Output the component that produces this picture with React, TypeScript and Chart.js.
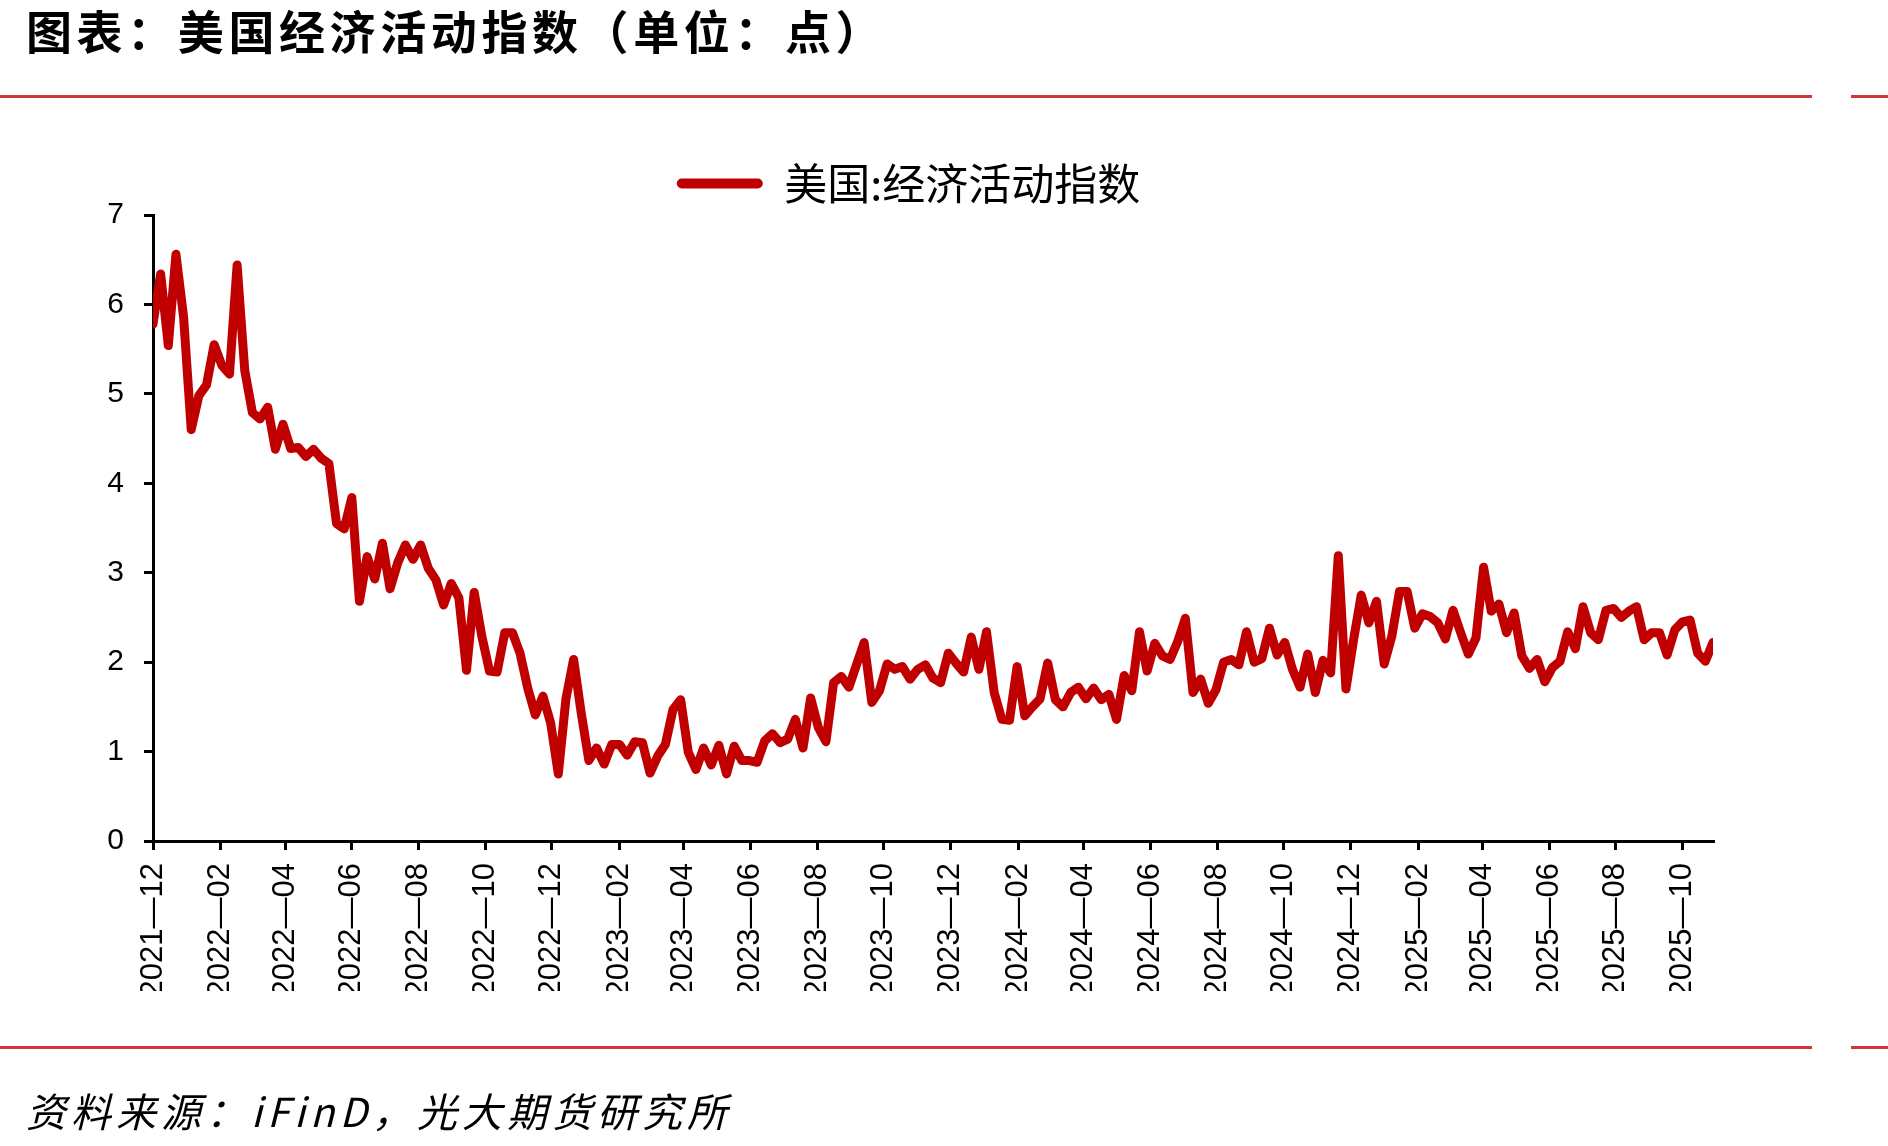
import React, { useEffect, useRef } from "react";
import { Chart, registerables } from "chart.js";

Chart.register(...registerables);

// ---- data ----
const seriesName = "美国:经济活动指数";
const startDate = "2021-12-04"; // first weekly observation
const weekStepDays = 7;

const wei2021 = [5.78, 6.34, 5.54, 6.56];
const wei2022 = [
  5.86, 4.6, 4.98, 5.1, 5.55, 5.32, 5.22, 6.44, 5.26, 4.79, 4.72, 4.85, 4.38,
  4.66, 4.39, 4.4, 4.3, 4.38, 4.28, 4.22, 3.55, 3.49, 3.84, 2.68, 3.18, 2.93,
  3.33, 2.82, 3.11, 3.31, 3.15, 3.31, 3.05, 2.92, 2.64, 2.88, 2.72, 1.91, 2.78,
  2.29, 1.9, 1.89, 2.33, 2.33, 2.1, 1.71, 1.41, 1.62, 1.32, 0.75, 1.59, 2.03,
  1.43,
];
const wei2023 = [
  0.9, 1.04, 0.86, 1.08, 1.08, 0.96, 1.11, 1.1, 0.76, 0.95, 1.08, 1.47, 1.58,
  0.99, 0.8, 1.04, 0.85, 1.07, 0.75, 1.06, 0.9, 0.9, 0.88, 1.12, 1.2, 1.1, 1.14,
  1.36, 1.04, 1.6, 1.27, 1.11, 1.77, 1.84, 1.72, 1.97, 2.22, 1.55, 1.68, 1.98,
  1.92, 1.95, 1.81, 1.92, 1.97, 1.82, 1.77, 2.1, 1.99, 1.89, 2.28, 1.92,
];
const wei2024 = [
  2.34, 1.66, 1.36, 1.35, 1.95, 1.4, 1.5, 1.59, 1.99, 1.58, 1.5, 1.66, 1.72,
  1.59, 1.71, 1.58, 1.64, 1.36, 1.85, 1.68, 2.34, 1.9, 2.21, 2.07, 2.03, 2.23,
  2.49, 1.66, 1.81, 1.54, 1.69, 2.0, 2.03, 1.97, 2.34, 2.0, 2.04, 2.38, 2.08,
  2.22, 1.92, 1.72, 2.09, 1.66, 2.02, 1.88, 3.19, 1.7, 2.25, 2.75, 2.44, 2.68,
];
const wei2025 = [
  1.98, 2.29, 2.79, 2.79, 2.38, 2.54, 2.51, 2.44, 2.26, 2.58, 2.33, 2.09, 2.27,
  3.06, 2.57, 2.65, 2.33, 2.55, 2.07, 1.93, 2.03, 1.78, 1.94, 2.01, 2.34, 2.15,
  2.62, 2.33, 2.25, 2.58, 2.6, 2.5, 2.57, 2.62, 2.25, 2.33, 2.33, 2.08, 2.36,
  2.45, 2.47, 2.1, 2.01, 2.22,
];

const xTickLabels = [
  "2021-12", "2022-02", "2022-04", "2022-06", "2022-08", "2022-10",
  "2022-12", "2023-02", "2023-04", "2023-06", "2023-08", "2023-10",
  "2023-12", "2024-02", "2024-04", "2024-06", "2024-08", "2024-10",
  "2024-12", "2025-02", "2025-04", "2025-06", "2025-08", "2025-10",
];
const yTickValues = [0, 1, 2, 3, 4, 5, 6, 7];

// ---- helpers ----
const DAY_MS = 86400000;
const start = new Date(startDate + "T00:00:00Z");
const startMs = start.getTime();
const startDay = start.getUTCDate();

function labelToDays(label: string): number {
  const [y, m] = label.split("-").map(Number);
  return Math.round((Date.UTC(y, m - 1, startDay) - startMs) / DAY_MS);
}

const allValues = [...wei2021, ...wei2022, ...wei2023, ...wei2024, ...wei2025];
const points = allValues.map((v, i) => ({ x: i * weekStepDays, y: v }));
const xMax = (allValues.length - 1) * weekStepDays;
const xTickPositions = xTickLabels.map(labelToDays);

const RED = "#c00000";
const RULE = "#d5363c";
const NUM_FONT = "'Liberation Sans', 'DejaVu Sans', sans-serif";
const CJK_FONT = "'Noto Sans CJK SC', 'Noto Sans', sans-serif";

export default function App() {
  const canvasRef = useRef<HTMLCanvasElement | null>(null);

  useEffect(() => {
    document.body.style.margin = "0";
    document.body.style.background = "#ffffff";
    const canvas = canvasRef.current;
    if (!canvas) return;

    const chart = new Chart(canvas, {
      type: "line",
      data: {
        datasets: [
          {
            label: seriesName,
            data: points,
            borderColor: RED,
            backgroundColor: RED,
            borderWidth: 9,
            pointRadius: 0,
            pointHoverRadius: 0,
            tension: 0,
            fill: false,
            borderJoinStyle: "round",
            borderCapStyle: "round",
          },
        ],
      },
      options: {
        animation: false,
        responsive: false,
        devicePixelRatio: 1,
        layout: { padding: { left: 104, right: 175, top: 152, bottom: 155 } },
        plugins: {
          tooltip: { enabled: false },
          legend: {
            display: true,
            position: "top",
            labels: {
              boxWidth: 86,
              boxHeight: 10,
              useBorderRadius: true,
              borderRadius: 5,
              padding: 10,
              color: "#000",
              font: { size: 43, family: CJK_FONT },
              generateLabels: (ch: any) =>
                Chart.defaults.plugins.legend.labels
                  .generateLabels(ch)
                  .map((it: any) => ({ ...it, lineWidth: 0, strokeStyle: RED })),
            },
          },
        },
        scales: {
          x: {
            type: "linear",
            min: 0,
            max: xMax,
            afterBuildTicks: (scale: any) => {
              scale.ticks = xTickPositions.map((v) => ({ value: v }));
            },
            afterFit: (scale: any) => {
              scale.height = 150;
            },
            grid: {
              display: true,
              drawOnChartArea: false,
              drawTicks: true,
              tickLength: 9,
              color: "#000",
              lineWidth: 3,
            },
            border: { display: true, color: "#000", width: 3 },
            ticks: {
              autoSkip: false,
              minRotation: 90,
              maxRotation: 90,
              padding: 13,
              color: "#000",
              font: { size: 31, family: NUM_FONT },
              callback: (_v: any, i: number) =>
                (xTickLabels[i] || "").replace("-", "—"),
            },
          },
          y: {
            min: 0,
            max: 7,
            afterBuildTicks: (scale: any) => {
              scale.ticks = yTickValues.map((v) => ({ value: v }));
            },
            afterFit: (scale: any) => {
              scale.width = 49;
            },
            grid: {
              display: true,
              drawOnChartArea: false,
              drawTicks: true,
              tickLength: 9,
              color: "#000",
              lineWidth: 3,
            },
            border: { display: true, color: "#000", width: 3 },
            ticks: {
              padding: 20,
              color: "#000",
              font: { size: 30, family: NUM_FONT },
              callback: (v: any) => String(v),
            },
          },
        },
      } as any,
    });

    return () => {
      chart.destroy();
    };
  }, []);

  return (
    <div
      style={{
        position: "relative",
        width: 1888,
        height: 1146,
        background: "#fff",
        overflow: "hidden",
      }}
    >
      <canvas
        ref={canvasRef}
        width={1888}
        height={1146}
        style={{ position: "absolute", left: 0, top: 0, width: 1888, height: 1146 }}
      />
      <div
        style={{
          position: "absolute",
          left: 26,
          top: 6,
          fontFamily: CJK_FONT,
          fontWeight: 700,
          fontSize: 46,
          lineHeight: "46px",
          letterSpacing: 4.6,
          color: "#000",
          whiteSpace: "nowrap",
        }}
      >
        图表：美国经济活动指数（单位：点）
      </div>
      <div style={{ position: "absolute", left: 0, top: 95, width: 1812, height: 3, background: RULE }} />
      <div style={{ position: "absolute", left: 1851, top: 95, width: 37, height: 3, background: RULE }} />
      <div style={{ position: "absolute", left: 0, top: 1046, width: 1812, height: 3, background: RULE }} />
      <div style={{ position: "absolute", left: 1851, top: 1046, width: 37, height: 3, background: RULE }} />
      <div
        style={{
          position: "absolute",
          left: 26,
          top: 1090,
          fontFamily: CJK_FONT,
          fontStyle: "italic",
          fontSize: 40,
          lineHeight: "40px",
          letterSpacing: 5,
          color: "#000",
          whiteSpace: "nowrap",
        }}
      >
        资料来源：iFinD，光大期货研究所
      </div>
    </div>
  );
}
